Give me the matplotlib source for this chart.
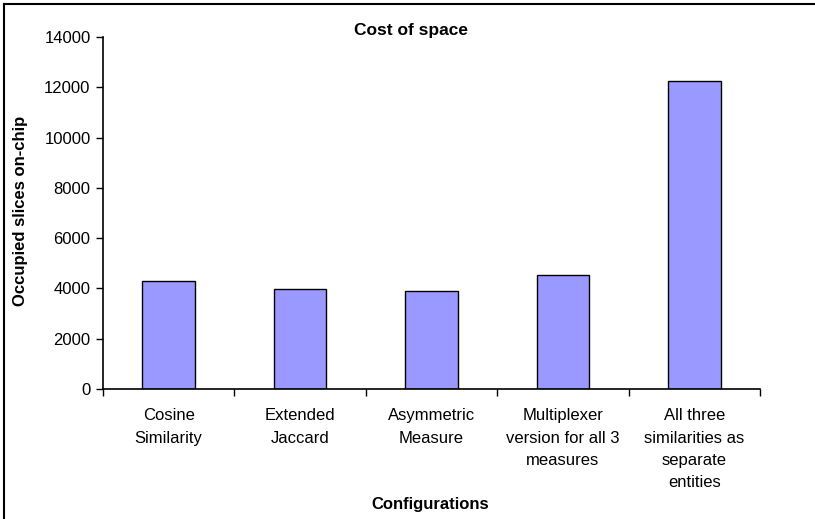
import matplotlib
matplotlib.use("Agg")
import matplotlib.pyplot as plt
from matplotlib.lines import Line2D

plt.rcParams["font.family"] = ["Liberation Sans", "DejaVu Sans"]

# ── data ──────────────────────────────────────────────────────
configs = ["Cosine\nSimilarity", "Extended\nJaccard", "Asymmetric\nMeasure",
           "Multiplexer\nversion for all 3\nmeasures",
           "All three\nsimilarities as\nseparate\nentities"]
slices = [4300, 3970, 3910, 4550, 12250]
yticks = [0, 2000, 4000, 6000, 8000, 10000, 12000, 14000]

# ── plot ──────────────────────────────────────────────────────
W, H = 815, 519
fig = plt.figure(figsize=(W / 100, H / 100), dpi=100)
ax = fig.add_axes([103 / W, 1 - 389 / H, 657 / W, 352 / H])

x = list(range(len(slices)))
ax.bar(x, slices, width=0.4, color="#9999ff", edgecolor="black", linewidth=1.0)
ax.set_xlim(-0.5, len(slices) - 0.5)
ax.set_ylim(0, 14000)
ax.set_yticks(yticks)
ax.set_yticklabels([str(v) for v in yticks], fontsize=12)

# category ticks sit between bars, labels centred under bars
ax.set_xticks([i - 0.5 for i in range(len(slices) + 1)])
ax.set_xticklabels([])
ax.set_xticks(x, minor=True)
ax.set_xticklabels(configs, minor=True, fontsize=12, linespacing=1.6, va="top")
ax.tick_params(axis="x", which="minor", length=0, pad=14)
ax.tick_params(axis="x", which="major", direction="out", length=5, width=1)
ax.tick_params(axis="y", direction="out", length=5, width=1, pad=4)

for s in ("top", "right"):
    ax.spines[s].set_visible(False)
for s in ("left", "bottom"):
    ax.spines[s].set_linewidth(1.2)

fig.text(411 / W, 1 - 30 / H, "Cost of space", ha="center", va="center",
         fontsize=12.5, fontweight="bold")
fig.text(430 / W, 1 - 505 / H, "Configurations", ha="center", va="center",
         fontsize=12, fontweight="bold")
fig.text(21 / W, 1 - 211 / H, "Occupied slices on-chip", ha="center", va="center",
         rotation=90, fontsize=12, fontweight="bold")

# frame around the chart area (left and top edges)
fig.add_artist(Line2D([4 / W, 4 / W], [0, 1 - 4 / H], transform=fig.transFigure,
                      color="black", linewidth=1.5))
fig.add_artist(Line2D([4 / W, 1], [1 - 4 / H, 1 - 4 / H], transform=fig.transFigure,
                      color="black", linewidth=1.5))

fig.savefig("out.png", dpi=100)
